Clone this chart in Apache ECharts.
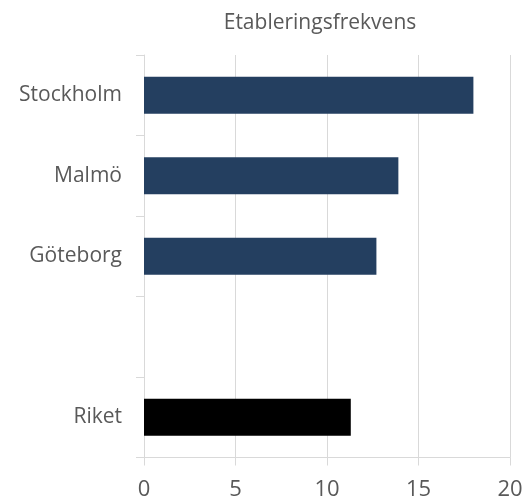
<!DOCTYPE html>
<html>
<head>
<meta charset="utf-8">
<script src="https://cdn.jsdelivr.net/npm/echarts@6/dist/echarts.min.js"></script>
<style>html,body{margin:0;padding:0;background:#fff}#c{width:530px;height:502px}</style>
</head>
<body>
<div id="c"></div>
<script>
var titleText = 'Etableringsfrekvens';
var categories = ['Stockholm', 'Malmö', 'Göteborg', '', 'Riket'];
var values = [18.0, 13.9, 12.7, null, 11.3];
var xTicks = [0, 5, 10, 15, 20];

var barColors = ['#243F60', '#243F60', '#243F60', '#243F60', '#000000'];
var chart = echarts.init(document.getElementById('c'));
chart.setOption({
  animation: false,
  backgroundColor: '#fff',
  title: {
    text: titleText, left: 315, top: 8, textAlign: 'center',
    textStyle: { fontFamily: 'Open Sans', fontSize: 21, fontWeight: 'normal', color: '#595959' }
  },
  grid: { left: 144, right: 20, top: 55, bottom: 44.5, containLabel: false },
  xAxis: {
    type: 'value', min: xTicks[0], max: xTicks[xTicks.length - 1], interval: 5,
    axisLine: { show: true, lineStyle: { color: '#d9d9d9', width: 1 } },
    axisTick: { show: true, length: 8, lineStyle: { color: '#d9d9d9' } },
    splitLine: { show: true, lineStyle: { color: '#d9d9d9', width: 1 } },
    axisLabel: { margin: 21, fontFamily: 'Open Sans', fontSize: 22, color: '#595959' }
  },
  yAxis: {
    type: 'category', data: categories, inverse: true,
    axisLine: { show: true, lineStyle: { color: '#d9d9d9', width: 1 } },
    axisTick: { show: true, length: 8, lineStyle: { color: '#d9d9d9' } },
    splitLine: { show: false },
    axisLabel: { margin: 22, padding: [4, 0, 0, 0], fontFamily: 'Open Sans', fontSize: 21, color: '#595959' }
  },
  series: [{
    type: 'bar', barWidth: '46%',
    data: values.map(function (v, i) {
      return { value: v, itemStyle: { color: barColors[i] } };
    })
  }]
});
</script>
</body>
</html>
